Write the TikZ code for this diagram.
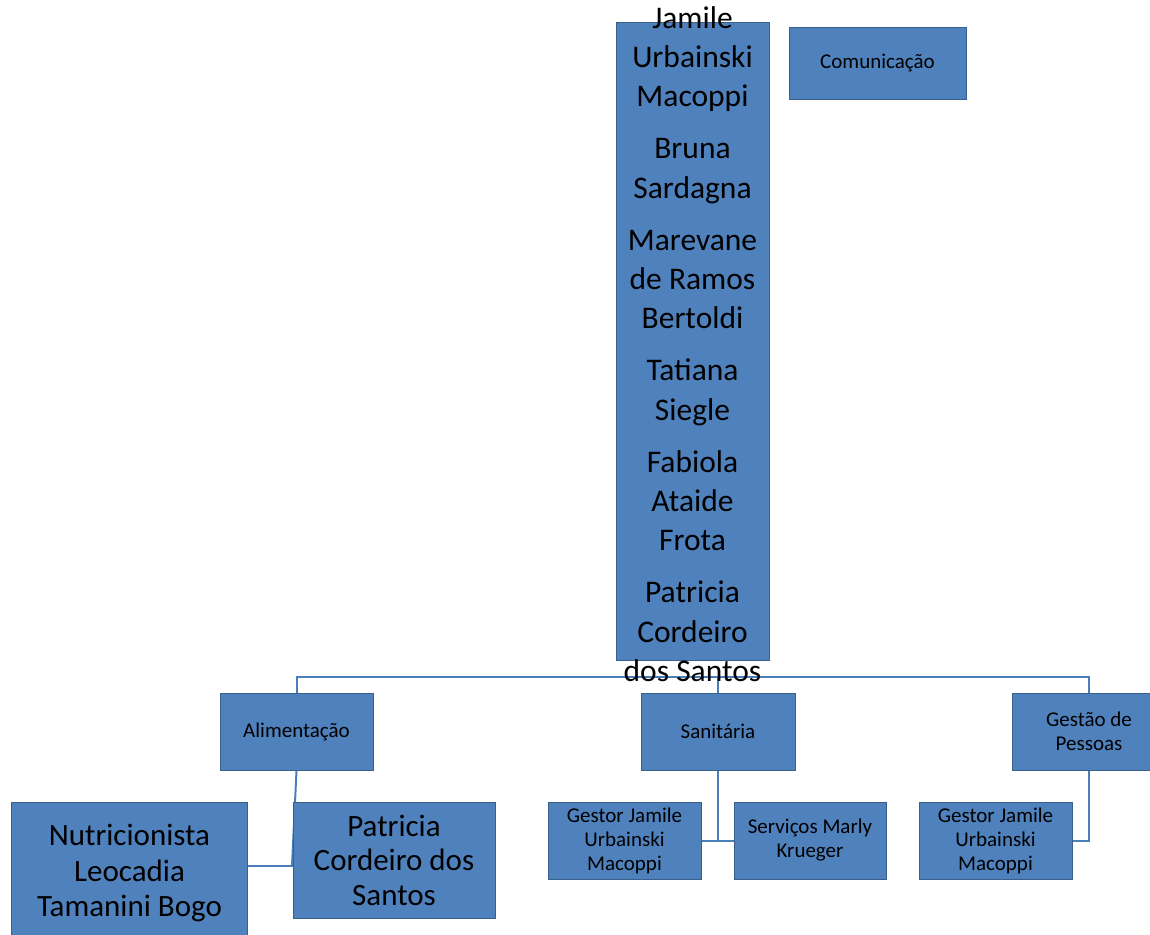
\documentclass[tikz,border=0pt]{standalone}
\usepackage{fontspec}
\setmainfont{Carlito}
\definecolor{boxfill}{HTML}{4F81BD}
\definecolor{boxborder}{HTML}{3A5F8B}
\definecolor{connc}{HTML}{4A7EBB}
\tikzset{
  box/.style={draw=boxborder, fill=boxfill, line width=1bp, inner sep=0pt, align=center, text=black},
  conn/.style={draw=connc, line width=2bp},
  smalltxt/.style={font=\fontsize{21bp}{24bp}\selectfont},
  largetxt/.style={font=\fontsize{31bp}{35.5bp}\selectfont},
}
\begin{document}
\begin{tikzpicture}[x=1bp,y=-1bp]
\useasboundingbox (0,0) rectangle (1150,935);
\clip (0,0) rectangle (1150,935);
% level-1 boxes
\node[box, minimum width=153bp, minimum height=637bp] (head) at (692.5,341.5) {};
\node[box, smalltxt, minimum width=177bp, minimum height=72bp] (com) at (877.5,63) {Comunicação};
\node[box, smalltxt, minimum width=153bp, minimum height=77bp] (alim) at (296.5,731.5) {Alimentação};
\node[box, smalltxt, minimum width=154bp, minimum height=77bp] (san) at (718,731.5) {Sanitária};
\node[box, smalltxt, minimum width=154bp, minimum height=77bp] (gest) at (1089,731.5) {Gestão de\\Pessoas};
% connectors
\coordinate (bus) at (0,677);
\draw[conn] (alim.north) -- (alim.north |- bus) -- (gest.north |- bus) -- (gest.north);
\draw[conn] (san.north |- bus) -- (san.north);
\coordinate (aj) at (292,866);
\coordinate (sj) at (718,841);
\draw[conn] (alim.south) -- (aj);
\draw[conn] (san.south) -- (sj);
% level-2 boxes
\node[box, minimum width=235bp, minimum height=139bp,
      label={[largetxt, align=center, inner sep=0pt, yshift=-1.5bp]center:Nutricionista\\Leocadia\\Tamanini Bogo}] (nutri) at (129.5,871.5) {};
\node[box, largetxt, minimum width=202bp, minimum height=116bp, font=\fontsize{31bp}{34.5bp}\selectfont] (patr) at (394,860) {Patricia\\Cordeiro dos\\Santos};
\node[box, smalltxt, minimum width=153bp, minimum height=77bp] (g1) at (624.5,840.5) {Gestor Jamile\\Urbainski\\Macoppi};
\node[box, smalltxt, minimum width=152bp, minimum height=77bp] (serv) at (810,840.5) {Serviços Marly\\Krueger};
\node[box, smalltxt, minimum width=153bp, minimum height=77bp] (g2) at (995.5,840.5) {Gestor Jamile\\Urbainski\\Macoppi};
\draw[conn] (nutri.east |- aj) -- (patr.west |- aj);
\draw[conn] (g1.east |- sj) -- (serv.west |- sj);
\draw[conn] (gest.south) |- (g2.east);
% text of the head box (overflows the box)
\node[align=center, inner sep=0pt, font=\fontsize{31.5bp}{39.3bp}\selectfont] (headtxt) at ([yshift=-2.5bp]head.center) {Jamile\\Urbainski\\Macoppi\\[12.7bp]Bruna\\Sardagna\\[12.7bp]Marevane\\de Ramos\\Bertoldi\\[12.7bp]Tatiana\\Siegle\\[12.7bp]Fabiola\\Ataide\\Frota\\[12.7bp]Patricia\\Cordeiro\\dos Santos};
\end{tikzpicture}
\end{document}
